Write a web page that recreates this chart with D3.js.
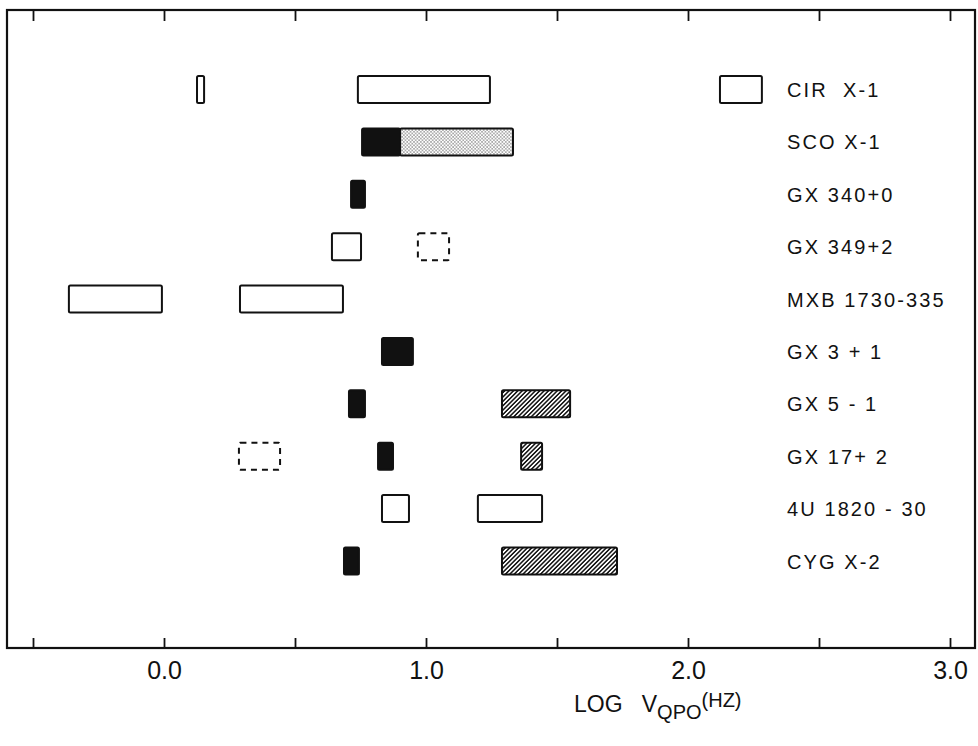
<!DOCTYPE html>
<html>
<head>
<meta charset="utf-8">
<script src="https://cdn.jsdelivr.net/npm/d3@7"></script>
<style>
  html, body { margin: 0; padding: 0; background: #fff; }
  svg { display: block; }
  text { fill: #111; }
</style>
</head>
<body>
<svg id="chart" width="978" height="746"></svg>
<script>
// Sources, top to bottom
const sources = ["CIR X-1", "SCO X-1", "GX 340+0", "GX 349+2", "MXB 1730-335",
                 "GX 3+1", "GX 5-1", "GX 17+2", "4U 1820-30", "CYG X-2"];

// Source names as printed next to the rows
const sourceLabels = ["CIR  X-1", "SCO X-1", "GX 340+0", "GX 349+2", "MXB 1730-335",
                      "GX 3 + 1", "GX 5 - 1", "GX 17+ 2", "4U 1820 - 30", "CYG X-2"];

// QPO frequency ranges, log10(Hz): [source, low, high]
const openRanges = [
  ["CIR X-1", 0.126, 0.153], ["CIR X-1", 0.740, 1.244], ["CIR X-1", 2.122, 2.282],
  ["GX 349+2", 0.641, 0.752],
  ["MXB 1730-335", -0.363, -0.008], ["MXB 1730-335", 0.290, 0.683],
  ["4U 1820-30", 0.832, 0.935], ["4U 1820-30", 1.198, 1.443]
];
const filledRanges = [
  ["SCO X-1", 0.756, 0.901], ["GX 340+0", 0.714, 0.767], ["GX 3+1", 0.832, 0.950],
  ["GX 5-1", 0.706, 0.767], ["GX 17+2", 0.817, 0.874], ["CYG X-2", 0.687, 0.744]
];
const stippledRanges = [["SCO X-1", 0.901, 1.332]];
const hatchedRanges = [
  ["GX 5-1", 1.290, 1.550], ["GX 17+2", 1.363, 1.443], ["CYG X-2", 1.290, 1.729]
];
const dashedRanges = [["GX 349+2", 0.969, 1.088], ["GX 17+2", 0.286, 0.443]];

// Axis ticks
const tickValues = [-0.5, 0, 0.5, 1, 1.5, 2, 2.5, 3];
const tickLabels = [0, 1, 2, 3];

const svg = d3.select("#chart");
const frame = { left: 7, right: 975, top: 10, bottom: 648 };

const x = d3.scaleLinear().domain([-0.5, 3]).range([33, 950]);
const y = d3.scalePoint().domain(sources).range([89.5, 561]);
const barH = 27;

// Fill patterns
const defs = svg.append("defs");
const stip = defs.append("pattern").attr("id", "stipple")
  .attr("patternUnits", "userSpaceOnUse").attr("width", 3.4).attr("height", 3.4);
stip.append("rect").attr("width", 3.4).attr("height", 3.4).attr("fill", "#fff");
stip.append("circle").attr("cx", 0.9).attr("cy", 0.9).attr("r", 0.6).attr("fill", "#222");
stip.append("circle").attr("cx", 2.6).attr("cy", 2.6).attr("r", 0.6).attr("fill", "#222");

const hatch = defs.append("pattern").attr("id", "hatch")
  .attr("patternUnits", "userSpaceOnUse").attr("width", 3.1).attr("height", 10)
  .attr("patternTransform", "rotate(45)");
hatch.append("rect").attr("width", 3.1).attr("height", 10).attr("fill", "#fff");
hatch.append("line").attr("x1", 0.8).attr("x2", 0.8).attr("y1", 0).attr("y2", 10)
  .attr("stroke", "#111").attr("stroke-width", 1.5);

// Frame
svg.append("rect")
  .attr("x", frame.left).attr("y", frame.top)
  .attr("width", frame.right - frame.left).attr("height", frame.bottom - frame.top)
  .attr("fill", "none").attr("stroke", "#111").attr("stroke-width", 2.2);

// Bottom axis with inward ticks
const fmt = d3.format(".1f");
const bottomAxis = d3.axisBottom(x)
  .tickValues(tickValues)
  .tickSizeInner(-10).tickSizeOuter(0).tickPadding(13)
  .tickFormat(d => tickLabels.includes(d) ? fmt(d) : "");
const gb = svg.append("g").attr("transform", `translate(0,${frame.bottom})`).call(bottomAxis);
gb.select(".domain").remove();
gb.selectAll(".tick line").attr("stroke", "#111").attr("stroke-width", 1.8);
gb.selectAll(".tick text")
  .attr("font-family", "'Liberation Sans Narrow', 'Liberation Sans', sans-serif")
  .attr("font-size", 25).attr("fill", "#111");

// Top axis, ticks only
const topAxis = d3.axisTop(x).tickValues(tickValues)
  .tickSizeInner(-11).tickSizeOuter(0).tickFormat("");
const gt = svg.append("g").attr("transform", `translate(0,${frame.top})`).call(topAxis);
gt.select(".domain").remove();
gt.selectAll(".tick line").attr("stroke", "#111").attr("stroke-width", 1.8);

// Range boxes
function drawRanges(data, cls, fill, dash) {
  svg.append("g").attr("class", cls)
    .selectAll("rect").data(data).join("rect")
    .attr("x", d => x(d[1]))
    .attr("y", d => y(d[0]) - barH / 2)
    .attr("width", d => x(d[2]) - x(d[1]))
    .attr("height", barH)
    .attr("rx", 1.5)
    .attr("fill", fill)
    .attr("stroke", "#111")
    .attr("stroke-width", 2)
    .attr("stroke-dasharray", dash);
}
drawRanges(openRanges, "open", "#fff", null);
drawRanges(stippledRanges, "stippled", "url(#stipple)", null);
drawRanges(hatchedRanges, "hatched", "url(#hatch)", null);
drawRanges(dashedRanges, "dashed", "none", "6 5");
drawRanges(filledRanges, "filled", "#111", null);

// Source labels
svg.append("g").selectAll("text").data(sources).join("text")
  .attr("x", 787)
  .attr("y", d => y(d) + 7.5)
  .attr("font-family", "'Liberation Sans', Arial, sans-serif")
  .attr("font-size", 20)
  .attr("letter-spacing", 2.1)
  .style("white-space", "pre")
  .text((d, i) => sourceLabels[i]);

// X-axis title: LOG ν_QPO (HZ)
const title = svg.append("text")
  .attr("x", 574).attr("y", 712)
  .attr("font-family", "'Liberation Sans Narrow', 'Liberation Sans', sans-serif")
  .attr("font-size", 23)
  .style("white-space", "pre");
title.append("tspan").text("LOG   V");
title.append("tspan").attr("dy", 7).attr("font-size", 20).text("QPO");
title.append("tspan").attr("dy", -12).attr("font-size", 20).text("(HZ)");
</script>
</body>
</html>
